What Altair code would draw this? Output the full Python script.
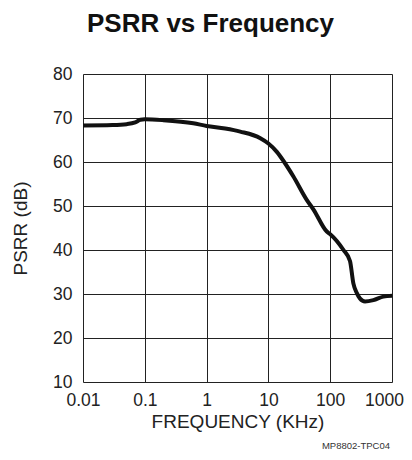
import altair as alt
import pandas as pd

freq_khz = [0.01, 0.03, 0.051, 0.07, 0.085, 0.1, 0.2, 0.61, 1.0, 2.0, 3.5, 7.4, 10.0,
            13.7, 18.0, 25.4, 41.7, 53.7, 88.0, 100.0, 164.0, 209.0, 237.0, 270.0,
            302.0, 366.0, 500.0, 725.0, 1000.0]
psrr_db = [68.3, 68.4, 68.6, 69.0, 69.6, 69.7, 69.5, 68.8, 68.2, 67.6, 66.9, 65.4, 64.2,
           62.3, 60.0, 56.7, 51.4, 49.2, 44.2, 43.6, 40.0, 37.5, 32.4, 30.2,
           29.0, 28.3, 28.6, 29.4, 29.6]

x_ticks = [0.01, 0.1, 1, 10, 100, 1000]
y_ticks = [10, 20, 30, 40, 50, 60, 70, 80]

df = pd.DataFrame({"f": freq_khz, "p": psrr_db})

FONT = "Liberation Sans"
TXT = "#222"

line = alt.Chart(df).mark_line(color="#111", strokeWidth=4, interpolate="monotone").encode(
    x=alt.X("f:Q",
            scale=alt.Scale(type="log", domain=[0.01, 1000], nice=False),
            axis=alt.Axis(values=x_ticks, title="FREQUENCY (KHz)",
                          labelExpr="format(datum.value, '~g')",
                          labelOffset={"condition": {"test": "datum.value >= 1000", "value": -8},
                                       "value": 0},
                          grid=True, gridColor="#222", gridWidth=1, gridOpacity=1,
                          ticks=False, domain=False, labelPadding=9,
                          labelFontSize=17.5, titleFontSize=19, titleFontWeight="normal",
                          labelColor=TXT, titleColor=TXT,
                          labelFont=FONT, titleFont=FONT, titlePadding=4,
                          labelFlush=False)),
    y=alt.Y("p:Q",
            scale=alt.Scale(domain=[10, 80], nice=False),
            axis=alt.Axis(values=y_ticks, title="PSRR (dB)",
                          grid=True, gridColor="#222", gridWidth=1, gridOpacity=1,
                          ticks=False, domain=False, labelPadding=11,
                          labelFontSize=17.5, titleFontSize=19, titleFontWeight="normal",
                          labelColor=TXT, titleColor=TXT,
                          labelFont=FONT, titleFont=FONT, titlePadding=22,
                          labelFlush=False)),
)

footer = alt.Chart(pd.DataFrame({"t": ["MP8802-TPC04"]})).mark_text(
    align="right", baseline="alphabetic", fontSize=9.5, font=FONT, color="#333"
).encode(x=alt.value(307), y=alt.value(375), text="t:N")

chart = alt.layer(line, footer).properties(
    width=309, height=308,
    title=alt.TitleParams("PSRR vs Frequency", fontSize=26, fontWeight="bold", font=FONT,
                          anchor="middle", dx=-27, offset=28, color="#111"),
    autosize=alt.AutoSizeParams(type="none"),
    padding={"left": 75, "top": 66, "right": 12, "bottom": 70},
).configure_view(stroke="#111", strokeWidth=2).configure(background="white")

chart.save("out.html", embed_options={"renderer": "svg", "actions": False})
